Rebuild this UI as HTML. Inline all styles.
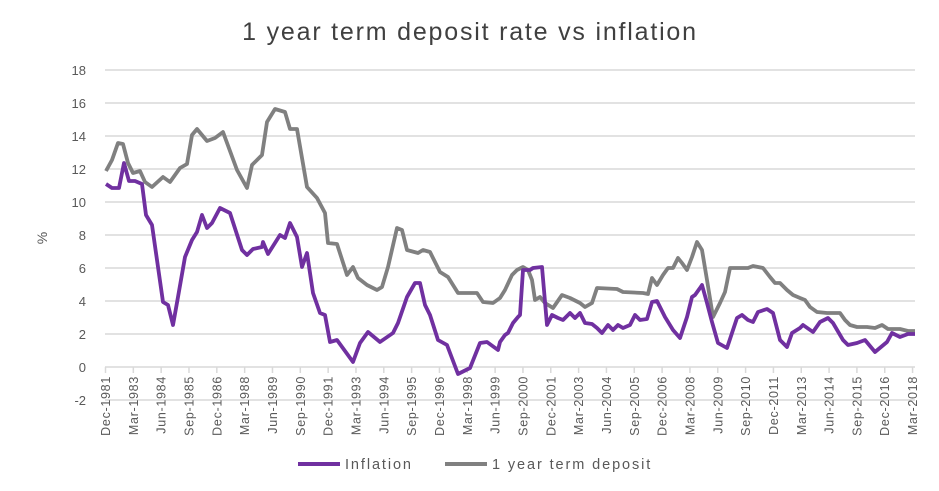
<!DOCTYPE html>
<html><head><meta charset="utf-8"><style>
html,body{margin:0;padding:0;background:#fff;}
svg{display:block;font-family:"Liberation Sans",sans-serif;}
</style></head><body>
<svg width="939" height="491" viewBox="0 0 939 491" xmlns="http://www.w3.org/2000/svg">
<rect width="939" height="491" fill="#fff"/>
<text x="470" y="40" text-anchor="middle" font-size="25" letter-spacing="1.8" fill="#404040">1 year term deposit rate vs inflation</text>
<g stroke="#d9d9d9" stroke-width="1.5">
<line x1="105" x2="915" y1="70" y2="70"/><line x1="105" x2="915" y1="103" y2="103"/>
<line x1="105" x2="915" y1="136" y2="136"/><line x1="105" x2="915" y1="169" y2="169"/>
<line x1="105" x2="915" y1="202" y2="202"/><line x1="105" x2="915" y1="235" y2="235"/>
<line x1="105" x2="915" y1="268" y2="268"/><line x1="105" x2="915" y1="301" y2="301"/>
<line x1="105" x2="915" y1="334" y2="334"/><line x1="105" x2="915" y1="400" y2="400"/>
<line x1="105" x2="915" y1="367" y2="367"/>
</g>
<g font-size="13" fill="#595959" text-anchor="end">
<text x="86" y="75">18</text><text x="86" y="108">16</text><text x="86" y="141">14</text>
<text x="86" y="174">12</text><text x="86" y="207">10</text><text x="86" y="240">8</text>
<text x="86" y="273">6</text><text x="86" y="306">4</text><text x="86" y="339">2</text>
<text x="86" y="372">0</text><text x="86" y="405">-2</text>
</g>
<text transform="translate(47,238) rotate(-90)" font-size="14" fill="#595959" text-anchor="middle">%</text>
<g id="ticks" stroke="#d9d9d9" stroke-width="1.5"></g>
<g id="xl" font-size="12.5" letter-spacing="0.7" fill="#595959"></g>
<polyline fill="none" stroke="#808080" stroke-width="3.8" stroke-linejoin="round" points="106,171 112,160 118,143 123,144 128,163 133,173 140,171 145,182 152,187 163,177 170,182 180,168 187,164 192,135 197,129 207,141 215,138 223,132 237,170 247,188 252,165 262,155 267,122 275,109 285,112 290,129 297,129 307,187 317,198 325,213 328,243 337,244 347,275 353,267 358,278 367,285 377,290 382,287 388,267 397,228 402,230 407,250 418,253 423,250 430,252 440,272 448,277 458,293 477,293 483,302 493,303 500,298 505,290 512,275 517,270 523,267 528,270 532,280 535,300 540,297 545,303 553,308 562,295 570,298 580,303 585,307 592,303 597,288 617,289 623,292 643,293 648,294 652,278 657,285 663,275 668,268 673,268 678,258 682,263 687,270 692,257 697,242 702,250 707,280 713,317 720,303 725,292 730,268 748,268 753,266 763,268 770,277 775,283 780,283 787,290 793,295 800,298 805,300 810,307 817,312 827,313 840,313 845,320 850,325 857,327 867,327 875,328 882,325 888,329 900,329 908,331 915,331"/>
<polyline fill="none" stroke="#7030a0" stroke-width="3.8" stroke-linejoin="round" points="106,184 112,188 119,188 124,163 129,181 135,181 142,184 146,215 152,225 163,302 168,305 173,325 178,297 185,257 192,240 197,232 202,215 207,228 212,223 220,208 230,213 242,250 247,255 253,249 262,247 263,242 268,254 280,235 285,238 290,223 297,237 302,267 307,253 313,293 320,313 325,315 330,342 337,340 353,362 360,343 368,332 380,342 393,333 398,323 407,297 415,283 420,283 425,305 430,315 438,340 447,345 458,374 470,368 480,343 487,342 498,350 500,342 505,335 508,333 513,323 518,317 520,315 523,270 530,270 533,268 542,267 547,325 552,315 558,318 563,320 570,313 575,318 580,313 585,323 592,324 597,328 602,333 608,325 613,330 618,325 623,328 630,325 635,315 640,320 647,319 652,302 657,301 665,317 673,330 680,338 687,317 692,297 695,295 700,288 702,285 707,303 712,322 718,343 727,348 737,318 742,315 748,320 753,322 758,312 767,309 773,313 780,340 787,347 792,333 800,328 803,325 813,332 820,322 828,318 833,323 843,340 848,345 857,343 865,340 875,352 887,342 892,333 900,337 908,334 915,334"/>
<line x1="298" x2="340" y1="464" y2="464" stroke="#7030a0" stroke-width="4"/>
<text x="345" y="469" font-size="14.5" letter-spacing="1.9" fill="#595959">Inflation</text>
<line x1="445" x2="487" y1="464" y2="464" stroke="#808080" stroke-width="4"/>
<text x="492" y="469" font-size="14.5" letter-spacing="1.9" fill="#595959">1 year term deposit</text>
<script>
var m=["Dec","Mar","Jun","Sep"],ns="http://www.w3.org/2000/svg";
var t=document.getElementById("ticks"),g=document.getElementById("xl");
for(var i=0;i<30;i++){var x=105.5+i*27.83;var q=i*5;var mi=q%4;var yr=1981+Math.floor((q+3)/4);
var l=document.createElementNS(ns,"line");l.setAttribute("x1",x);l.setAttribute("x2",x);l.setAttribute("y1",367);l.setAttribute("y2",373);t.appendChild(l);
var s=document.createElementNS(ns,"text");s.setAttribute("transform","translate("+(x+4.5)+",376) rotate(-90)");s.setAttribute("text-anchor","end");s.textContent=m[mi]+"-"+yr;g.appendChild(s);}
</script>
</svg>
</body></html>
